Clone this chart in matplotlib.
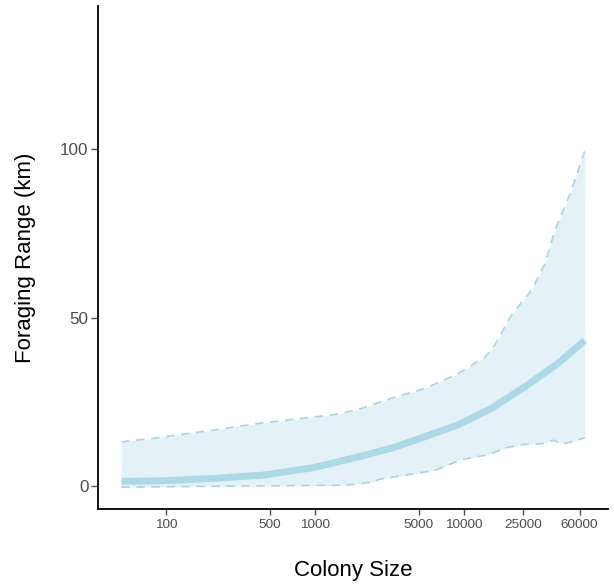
import matplotlib
matplotlib.use("Agg")
import matplotlib.pyplot as plt
import numpy as np

plt.rcParams["font.family"] = ["Liberation Sans", "DejaVu Sans"]

# Mean curve
mean_x = [50, 97, 211, 455, 984, 1972, 3296, 5508, 9200, 15400, 25800, 43000, 65000]
mean_y = [1.5, 1.7, 2.4, 3.4, 5.6, 8.8, 11.4, 14.8, 18.3, 23.2, 29.6, 36.5, 43.3]

# Upper bound (dashed)
upper_x = [50, 86, 239, 401, 1449, 1972, 3296, 5508, 9200, 13900, 16200, 19950,
           22100, 28500, 35100, 40900, 52800, 65000]
upper_y = [13.2, 14.4, 17.1, 18.6, 21.5, 22.9, 26.2, 29.1, 33.5, 38.4, 41.9, 49.3,
           52.2, 58.1, 66.0, 75.8, 87.6, 99.4]

# Lower bound (dashed)
lower_x = [50, 1607, 2483, 2683, 6430, 9700, 14600, 18900, 24400, 33300, 39900, 46600, 65000]
lower_y = [-0.2, 0.4, 1.3, 2.1, 4.8, 8.0, 9.4, 11.4, 12.4, 12.7, 13.7, 12.6, 14.4]

xticks = [100, 500, 1000, 5000, 10000, 25000, 60000]
yticks = [0, 50, 100]

fig = plt.figure(figsize=(6.14, 5.84), dpi=100)
ax = fig.add_axes([0.160, 0.128, 0.830, 0.862])

gx = np.array(sorted(set(upper_x) | set(lower_x)))
lgx = np.log10(gx)
up_g = np.interp(lgx, np.log10(upper_x), upper_y)
lo_g = np.interp(lgx, np.log10(lower_x), lower_y)
ax.fill_between(gx, lo_g, up_g, color="#e5f1f8", lw=0, zorder=1)
ax.plot(upper_x, upper_y, color="#a8d4e2", lw=1.2, ls=(0, (5, 4)), zorder=2)
ax.plot(lower_x, lower_y, color="#a8d4e2", lw=1.2, ls=(0, (5, 4)), zorder=2)
ax.plot(mean_x, mean_y, color="#add8e6", lw=5, solid_capstyle="butt",
        solid_joinstyle="round", zorder=3)

ax.set_xscale("log")
lx0, lx1 = np.log10(50), np.log10(65000)
pad = 0.05 * (lx1 - lx0)
ax.set_xlim(10 ** (lx0 - pad), 10 ** (lx1 + pad))
ax.set_ylim(-6.75, 142.5)

ax.set_xticks(xticks)
ax.set_xticklabels([str(t) for t in xticks])
ax.xaxis.set_minor_locator(matplotlib.ticker.NullLocator())
ax.set_yticks(yticks)
ax.set_yticklabels([str(t) for t in yticks])

ax.tick_params(axis="x", labelsize=9.7, colors="#4d4d4d", length=4, width=1, pad=3)
ax.tick_params(axis="y", labelsize=12.3, colors="#4d4d4d", length=5, width=1, pad=2)
for t in ax.get_xticklines() + ax.get_yticklines():
    t.set_color("black")

for s in ["top", "right"]:
    ax.spines[s].set_visible(False)
for s in ["left", "bottom"]:
    ax.spines[s].set_linewidth(1.3)
    ax.spines[s].set_color("black")

ax.set_xlabel("Colony Size", fontsize=16, labelpad=21)
ax.set_ylabel("Foraging Range (km)", fontsize=16, labelpad=17)

fig.savefig("out.png", dpi=100)
